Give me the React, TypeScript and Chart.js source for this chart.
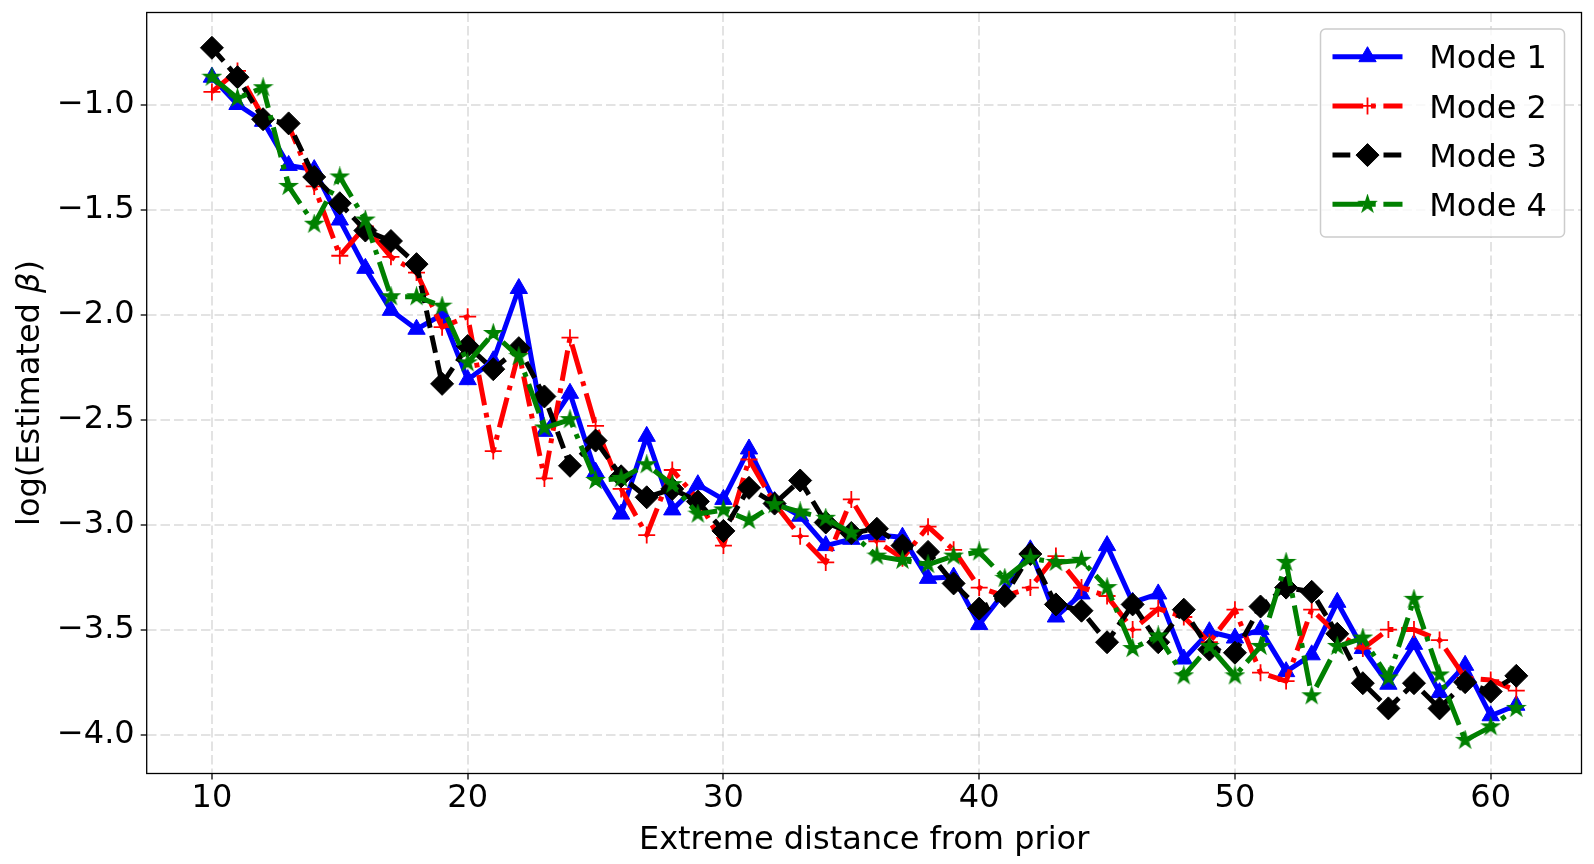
import { useEffect, useRef } from "react";
import { Chart, registerables } from "chart.js";

Chart.register(...registerables);

const FONT = "'DejaVu Sans', sans-serif";

// x: extreme distance from prior
const distances = [
  10, 11, 12, 13, 14, 15, 16, 17, 18, 19, 20, 21, 22, 23, 24, 25, 26, 27, 28, 29,
  30, 31, 32, 33, 34, 35, 36, 37, 38, 39, 40, 41, 42, 43, 44, 45, 46, 47, 48, 49,
  50, 51, 52, 53, 54, 55, 56, 57, 58, 59, 60, 61,
];

// log(estimated beta)
const mode1 = [
  -0.87, -1.0, -1.08, -1.29, -1.31, -1.55, -1.78, -1.98, -2.07, -2.0,
  -2.31, -2.22, -1.876, -2.556, -2.375, -2.75, -2.95, -2.58, -2.93, -2.81,
  -2.88, -2.64, -2.89, -2.96, -3.1, -3.07, -3.05, -3.06, -3.256, -3.25,
  -3.476, -3.32, -3.12, -3.44, -3.33, -3.1, -3.37, -3.33, -3.64, -3.51,
  -3.54, -3.5, -3.7, -3.62, -3.37, -3.59, -3.76, -3.57, -3.8, -3.67,
  -3.91, -3.86,
];
const mode2 = [
  -0.94, -0.84, -1.06, -1.1, -1.39, -1.72, -1.58, -1.725, -1.8, -2.06,
  -2.01, -2.65, -2.18, -2.78, -2.11, -2.53, -2.83, -3.05, -2.74, -2.88,
  -3.1, -2.69, -2.9, -3.055, -3.18, -2.88, -3.08, -3.16, -3.01, -3.12,
  -3.3, -3.34, -3.3, -3.15, -3.3, -3.34, -3.5, -3.4, -3.44, -3.56,
  -3.405, -3.705, -3.745, -3.405, -3.52, -3.59, -3.5, -3.5, -3.55, -3.73,
  -3.74, -3.79,
];
const mode3 = [
  -0.73, -0.87, -1.07, -1.09, -1.345, -1.47, -1.6, -1.65, -1.76, -2.33,
  -2.15, -2.26, -2.16, -2.39, -2.72, -2.6, -2.77, -2.87, -2.83, -2.89,
  -3.03, -2.825, -2.9, -2.79, -2.99, -3.04, -3.02, -3.1, -3.13, -3.28,
  -3.4, -3.34, -3.14, -3.38, -3.41, -3.56, -3.38, -3.56, -3.405, -3.595,
  -3.61, -3.39, -3.3, -3.32, -3.52, -3.755, -3.875, -3.755, -3.875, -3.75,
  -3.795, -3.72,
];
const mode4 = [
  -0.87, -0.97, -0.92, -1.39, -1.57, -1.345, -1.55, -1.915, -1.915, -1.96,
  -2.23, -2.09, -2.2, -2.54, -2.5, -2.79, -2.78, -2.715, -2.81, -2.95,
  -2.93, -2.98, -2.905, -2.94, -2.97, -3.04, -3.15, -3.17, -3.19, -3.15,
  -3.13, -3.256, -3.16, -3.18, -3.17, -3.3, -3.59, -3.53, -3.72, -3.58,
  -3.72, -3.58, -3.18, -3.815, -3.58, -3.54, -3.73, -3.356, -3.716, -4.027,
  -3.963, -3.875,
];

const xTicks = [10, 20, 30, 40, 50, 60];
const yTicks = [-4.0, -3.5, -3.0, -2.5, -2.0, -1.5, -1.0];

const xTitle = "Extreme distance from prior";

function makeStar(color: string, outer: number) {
  const inner = outer * 0.381966;
  const size = Math.ceil(outer * 2 + 4);
  const c = document.createElement("canvas");
  c.width = size;
  c.height = size;
  const g = c.getContext("2d")!;
  g.translate(size / 2, size / 2);
  g.beginPath();
  for (let i = 0; i < 10; i++) {
    const r = i % 2 === 0 ? outer : inner;
    const a = -Math.PI / 2 + (i * Math.PI) / 5;
    if (i === 0) g.moveTo(r * Math.cos(a), r * Math.sin(a));
    else g.lineTo(r * Math.cos(a), r * Math.sin(a));
  }
  g.closePath();
  g.fillStyle = color;
  g.fill();
  g.strokeStyle = color;
  g.lineWidth = 1.5;
  g.stroke();
  return c;
}

// little marker painter for the legend (same shapes as the plot)
function drawMarker(ctx: CanvasRenderingContext2D, ds: any, x: number, y: number) {
  const style = ds.pointStyle;
  const r = ds.pointRadius;
  ctx.save();
  ctx.fillStyle = ds.pointBackgroundColor;
  ctx.strokeStyle = ds.pointBorderColor;
  ctx.lineWidth = ds.pointBorderWidth;
  ctx.setLineDash([]);
  if (typeof style !== "string") {
    ctx.drawImage(style, x - style.width / 2, y - style.height / 2);
  } else if (style === "triangle") {
    ctx.beginPath();
    ctx.moveTo(x, y - r);
    ctx.lineTo(x + r * Math.sin(Math.PI / 3), y + r / 2);
    ctx.lineTo(x - r * Math.sin(Math.PI / 3), y + r / 2);
    ctx.closePath();
    ctx.fill();
    ctx.stroke();
  } else if (style === "rectRot") {
    ctx.beginPath();
    ctx.moveTo(x - r, y);
    ctx.lineTo(x, y - r);
    ctx.lineTo(x + r, y);
    ctx.lineTo(x, y + r);
    ctx.closePath();
    ctx.fill();
    ctx.stroke();
  } else if (style === "cross") {
    ctx.beginPath();
    ctx.moveTo(x, y - r);
    ctx.lineTo(x, y + r);
    ctx.moveTo(x - r, y);
    ctx.lineTo(x + r, y);
    ctx.stroke();
  }
  ctx.restore();
}

const decorPlugin = {
  id: "decor",
  afterDraw(chart: Chart) {
    const { ctx, chartArea: a } = chart;
    ctx.save();

    // axes frame
    ctx.strokeStyle = "#000";
    ctx.lineWidth = 1.3;
    ctx.setLineDash([]);
    ctx.strokeRect(a.left, a.top, a.right - a.left, a.bottom - a.top);

    // x title
    ctx.fillStyle = "#000";
    ctx.font = `32px ${FONT}`;
    ctx.textAlign = "center";
    ctx.textBaseline = "alphabetic";
    ctx.fillText(xTitle, (a.left + a.right) / 2, a.bottom + 75);

    // y title with italic beta
    const p1 = "log(Estimated ";
    const p2 = "\u03B2";
    const p3 = ")";
    ctx.font = `32px ${FONT}`;
    const w1 = ctx.measureText(p1).width;
    const w3 = ctx.measureText(p3).width;
    ctx.font = `italic 32px ${FONT}`;
    const w2 = ctx.measureText(p2).width;
    const total = w1 + w2 + w3;
    ctx.translate(a.left - 108, (a.top + a.bottom) / 2);
    ctx.rotate(-Math.PI / 2);
    ctx.textAlign = "left";
    ctx.font = `32px ${FONT}`;
    ctx.fillText(p1, -total / 2, 0);
    ctx.font = `italic 32px ${FONT}`;
    ctx.fillText(p2, -total / 2 + w1, 0);
    ctx.font = `32px ${FONT}`;
    ctx.fillText(p3, -total / 2 + w1 + w2, 0);
    ctx.setTransform(1, 0, 0, 1, 0, 0);
    ctx.restore();

    // legend, matplotlib style
    ctx.save();
    const bw = 244;
    const bh = 208;
    const bx = a.right - 17 - bw;
    const by = a.top + 16.5;
    ctx.beginPath();
    ctx.roundRect(bx, by, bw, bh, 5);
    ctx.fillStyle = "rgba(255,255,255,0.8)";
    ctx.fill();
    ctx.strokeStyle = "#cccccc";
    ctx.lineWidth = 1.5;
    ctx.stroke();

    chart.data.datasets.forEach((ds: any, i: number) => {
      const cy = by + 27.7 + i * 49.2;
      const lx0 = bx + 12;
      const lx1 = bx + 82;
      ctx.save();
      ctx.strokeStyle = ds.borderColor;
      ctx.lineWidth = ds.borderWidth;
      ctx.setLineDash(ds.borderDash || []);
      ctx.lineCap = "butt";
      ctx.beginPath();
      ctx.moveTo(lx0, cy);
      ctx.lineTo(lx1, cy);
      ctx.stroke();
      ctx.restore();
      drawMarker(ctx, ds, (lx0 + lx1) / 2, cy);
      ctx.fillStyle = "#000";
      ctx.font = `32px ${FONT}`;
      ctx.textAlign = "left";
      ctx.textBaseline = "alphabetic";
      ctx.fillText(ds.label, bx + 108.7, cy + 11.6);
    });
    ctx.restore();
  },
};

export default function App() {
  const canvasRef = useRef<HTMLCanvasElement | null>(null);

  useEffect(() => {
    document.body.style.margin = "0";
    const el = canvasRef.current;
    if (!el) return;

    const star = makeStar("#008000", 8.5);
    const pts = (ys: number[]) => distances.map((x, i) => ({ x, y: ys[i] }));

    const chart = new Chart(el, {
      type: "line",
      data: {
        datasets: [
          {
            label: "Mode 1",
            data: pts(mode1),
            borderColor: "#0000ff",
            backgroundColor: "#0000ff",
            borderWidth: 5,
            borderDash: [],
            pointStyle: "triangle",
            pointRadius: 10,
            pointBorderWidth: 1,
            pointBackgroundColor: "#0000ff",
            pointBorderColor: "#0000ff",
            order: 4,
          },
          {
            label: "Mode 2",
            data: pts(mode2),
            borderColor: "#ff0000",
            backgroundColor: "#ff0000",
            borderWidth: 5,
            borderDash: [30.7, 7.7, 4.8, 7.7],
            pointStyle: "cross",
            pointRadius: 8.5,
            pointBorderWidth: 1.8,
            pointBackgroundColor: "#ff0000",
            pointBorderColor: "#ff0000",
            order: 3,
          },
          {
            label: "Mode 3",
            data: pts(mode3),
            borderColor: "#000000",
            backgroundColor: "#000000",
            borderWidth: 5,
            borderDash: [17.8, 7.7],
            pointStyle: "rectRot",
            pointRadius: 11.5,
            pointBorderWidth: 1,
            pointBackgroundColor: "#000000",
            pointBorderColor: "#000000",
            order: 2,
          },
          {
            label: "Mode 4",
            data: pts(mode4),
            borderColor: "#008000",
            backgroundColor: "#008000",
            borderWidth: 5,
            borderDash: [30.7, 7.7, 4.8, 7.7],
            pointStyle: star,
            pointRadius: 8.5,
            pointBorderWidth: 1,
            pointBackgroundColor: "#008000",
            pointBorderColor: "#008000",
            order: 1,
          },
        ] as any,
      },
      options: {
        animation: false,
        responsive: true,
        maintainAspectRatio: false,
        events: [],
        elements: {
          line: { tension: 0, borderJoinStyle: "round", borderCapStyle: "butt" },
        },
        layout: { padding: { top: 12.3, right: 10, left: 0, bottom: 0 } },
        plugins: {
          legend: { display: false },
          tooltip: { enabled: false },
        },
        scales: {
          x: {
            type: "linear",
            min: 7.45,
            max: 63.55,
            afterBuildTicks: (axis: any) => {
              axis.ticks = xTicks.map((v) => ({ value: v }));
            },
            afterFit: (scale: any) => {
              scale.height = 90.5;
              scale.paddingLeft = 0;
              scale.paddingRight = 0;
            },
            ticks: {
              color: "#000",
              font: { family: FONT, size: 32 },
              padding: 0,
              maxRotation: 0,
              autoSkip: false,
              callback: (v: any) => String(v),
            },
            grid: {
              color: "rgba(176,176,176,0.35)",
              lineWidth: 2,
              tickColor: "#000",
              tickWidth: 1.3,
              tickLength: 6,
              tickBorderDash: [],
            },
            border: { display: false, dash: [9.5, 4] },
          },
          y: {
            type: "linear",
            min: -4.185,
            max: -0.562,
            afterBuildTicks: (axis: any) => {
              axis.ticks = yTicks.map((v) => ({ value: v }));
            },
            afterFit: (scale: any) => {
              scale.width = 146.7;
              scale.paddingTop = 0;
              scale.paddingBottom = 0;
            },
            ticks: {
              color: "#000",
              font: { family: FONT, size: 32 },
              padding: 6,
              autoSkip: false,
              callback: (v: any) =>
                (Number(v) < 0 ? "\u2212" : "") + Math.abs(Number(v)).toFixed(1),
            },
            grid: {
              color: "rgba(176,176,176,0.35)",
              lineWidth: 2,
              tickColor: "#000",
              tickWidth: 1.3,
              tickLength: 6,
              tickBorderDash: [],
            },
            border: { display: false, dash: [9.5, 4] },
          },
        },
      },
      plugins: [decorPlugin],
    });

    return () => {
      chart.destroy();
    };
  }, []);

  return (
    <div style={{ width: 1594, height: 864, position: "relative", background: "#fff" }}>
      <canvas ref={canvasRef} />
    </div>
  );
}
